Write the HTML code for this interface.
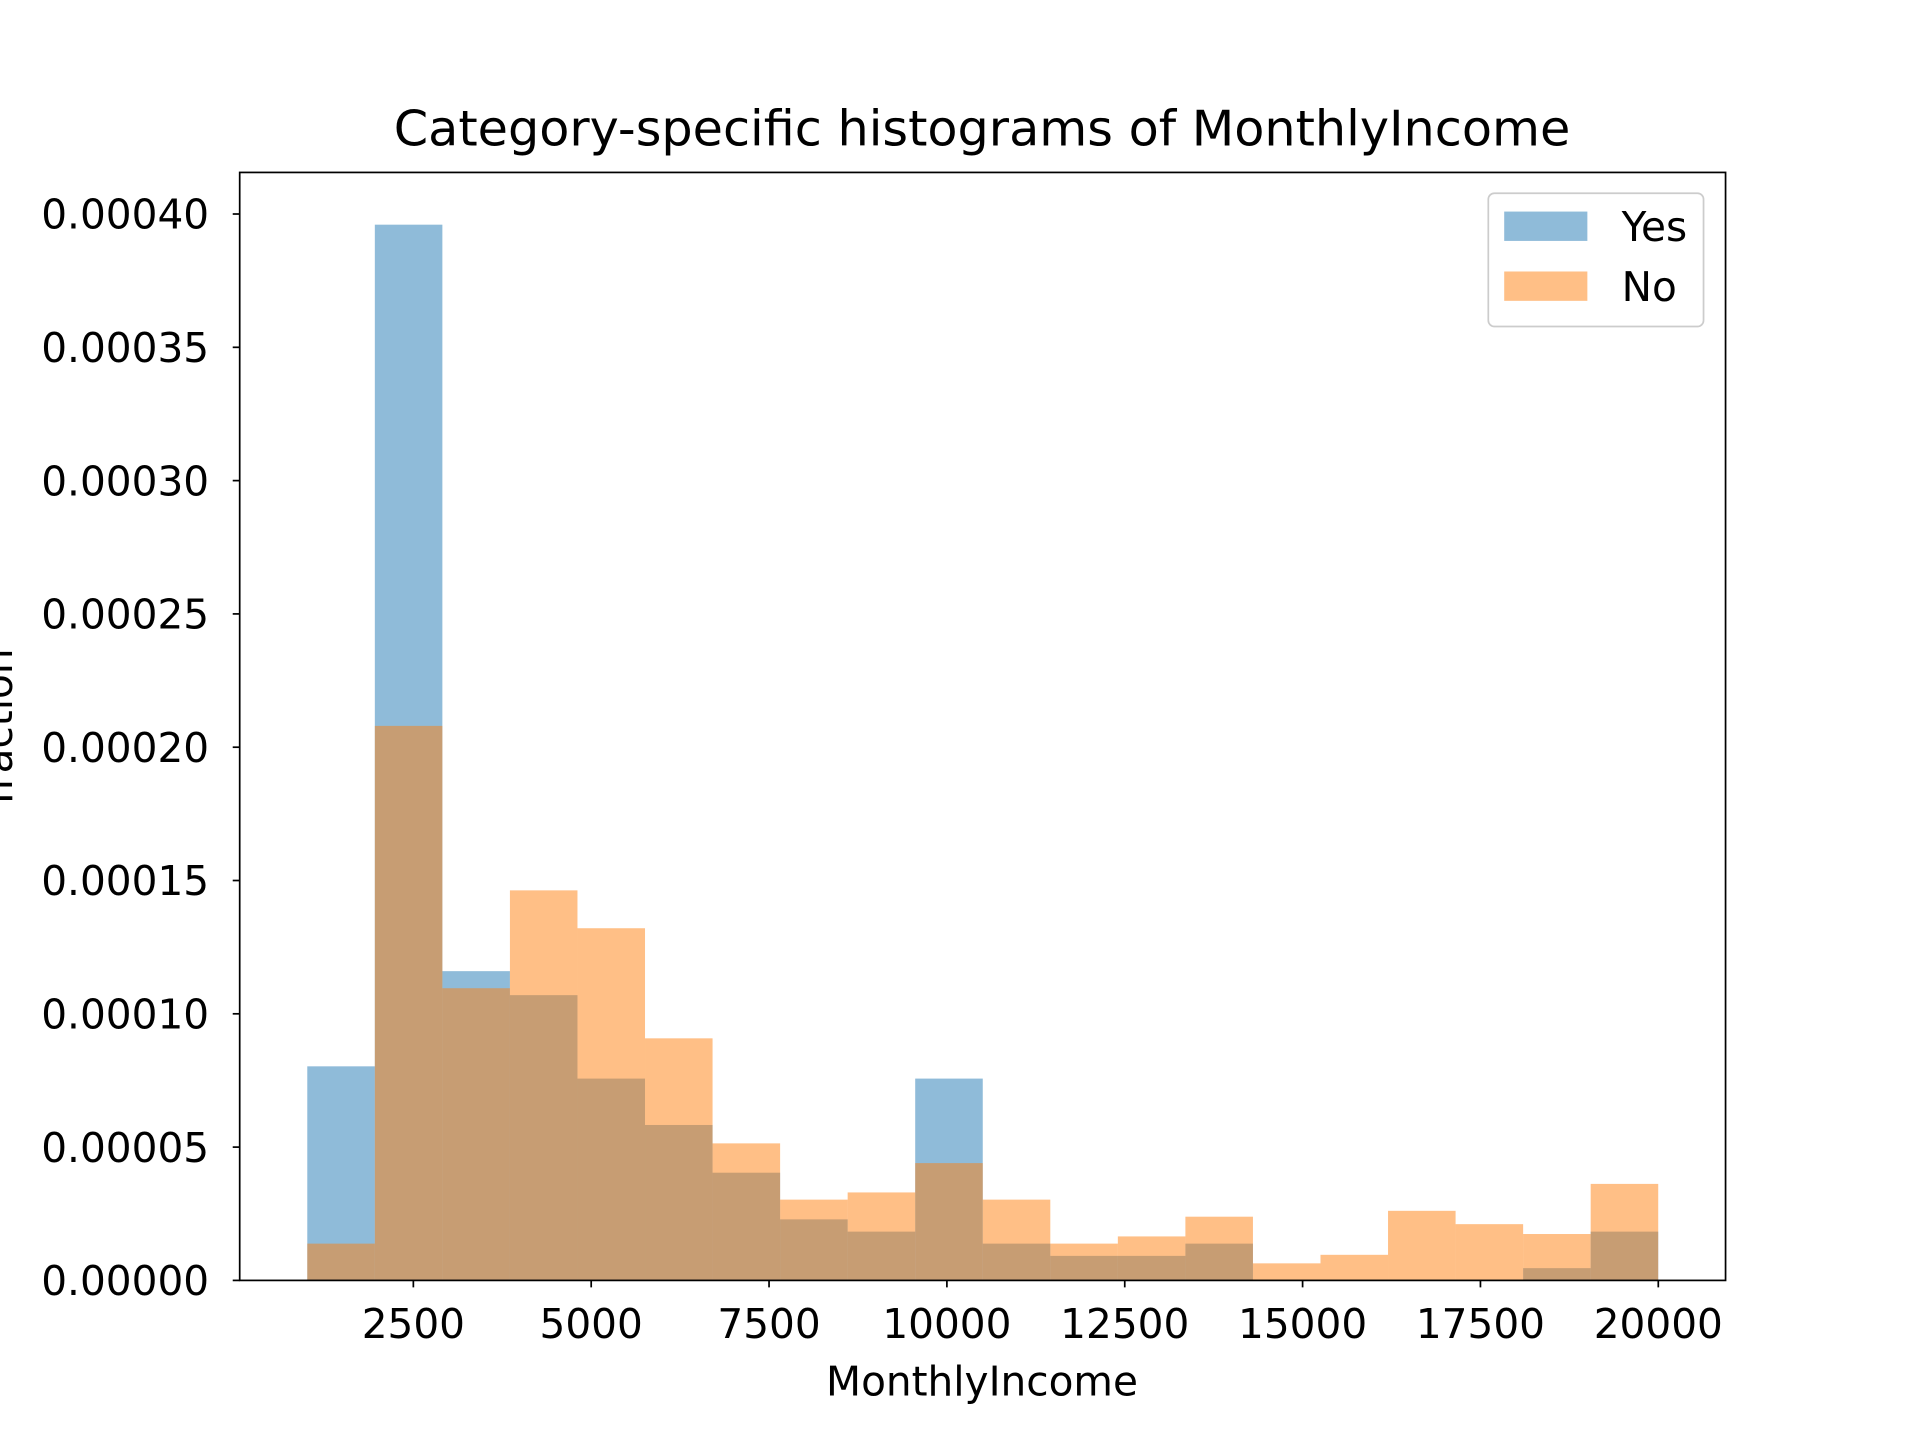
<!DOCTYPE html>
<html><head><meta charset="utf-8"><style>
html,body{margin:0;padding:0;background:#fff;}
svg{display:block;font-family:"DejaVu Sans","Liberation Sans",sans-serif;}
</style></head><body>
<svg id="chart" width="1920" height="1440" viewBox="0 0 1570 1177.5" xmlns="http://www.w3.org/2000/svg">
<rect width="1570" height="1177.5" fill="#fff"/>
<g id="bars"></g>
<g id="axes"></g>
</svg>
<script>
const binStart = 1009;
const binWidth = 949.5;
const yesValues = [0.0000803,0.000396,0.000116,0.000107,0.0000757,0.0000583,0.0000404,0.0000229,0.0000183,0.0000757,0.0000138,0.0000092,0.0000092,0.0000138,0,0,0,0,0.0000046,0.0000183];
const noValues = [0.0000138,0.000208,0.0001096,0.0001463,0.0001321,0.0000908,0.0000514,0.0000303,0.000033,0.000044,0.0000303,0.0000138,0.0000165,0.0000239,0.0000064,0.0000096,0.0000261,0.0000211,0.0000174,0.0000362];
const xTicks = [2500,5000,7500,10000,12500,15000,17500,20000];
const yTicks = [0,0.00005,0.0001,0.00015,0.0002,0.00025,0.0003,0.00035,0.0004];
const yTickLabels = ["0.00000","0.00005","0.00010","0.00015","0.00020","0.00025","0.00030","0.00035","0.00040"];

const L=196,R=1411,T=141,B=1047;
const xs = v => 338 + (v-2500)*(1356-338)/17500;
const ys = v => 1047 - v*(1047-175)/0.0004;
const NS="http://www.w3.org/2000/svg";
function mk(tag, attrs, parent){const e=document.createElementNS(NS,tag);for(const k in attrs)e.setAttribute(k,attrs[k]);parent.appendChild(e);return e;}
const bars=document.getElementById('bars');
const axes=document.getElementById('axes');

function drawSeries(vals,color,name){
  vals.forEach((v,i)=>{
    const x0=xs(binStart+i*binWidth), x1=xs(binStart+(i+1)*binWidth);
    const r=mk('rect',{x:x0,y:ys(v),width:x1-x0,height:ys(0)-ys(v),fill:color,'fill-opacity':0.5},bars);
    
    
  });
}
drawSeries(yesValues,'#1f77b4','yes');
drawSeries(noValues,'#ff7f0e','no');

const frame=mk('rect',{x:L,y:T,width:R-L,height:B-T,fill:'none',stroke:'#000','stroke-width':1.4},axes);



xTicks.forEach(t=>{
  const x=xs(t);
  mk('line',{x1:x,x2:x,y1:B,y2:B+5.7,stroke:'#000','stroke-width':1.4},axes);
  const tx=mk('text',{x:x,y:B+47,'text-anchor':'middle','font-size':33.2,fill:'#000'},axes);
  tx.textContent=t;
  
  
});
yTicks.forEach((t,i)=>{
  const y=ys(t);
  mk('line',{x1:L,x2:L-5.7,y1:y,y2:y,stroke:'#000','stroke-width':1.4},axes);
  const tx=mk('text',{x:L-25,y:y+12,'text-anchor':'end','font-size':33.2,fill:'#000'},axes);
  tx.textContent=yTickLabels[i];
  
  
});

const title=mk('text',{x:803,y:119,'text-anchor':'middle','font-size':40.3,fill:'#000'},axes);
title.textContent='Category-specific histograms of MonthlyIncome';



const xl=mk('text',{x:803,y:1141,'text-anchor':'middle','font-size':33.2,fill:'#000'},axes);
xl.textContent='MonthlyIncome';



const yl=mk('text',{x:0,y:0,'text-anchor':'middle','font-size':33.2,fill:'#000',transform:'translate(10,594) rotate(-90)'},axes);
yl.textContent='fraction';



const lg=mk('g',{},axes);


mk('rect',{x:1217,y:158,width:176,height:109,rx:5,fill:'#fff','fill-opacity':0.8,stroke:'#ccc','stroke-width':1.4},lg);
[['Yes','#1f77b4',173],['No','#ff7f0e',222]].forEach(([n,c,y])=>{
  const p=mk('rect',{x:1230,y:y,width:68,height:24,fill:c,'fill-opacity':0.5},lg);
  
  
  const t=mk('text',{x:1326,y:y+24,'font-size':33.2,fill:'#000'},lg);
  t.textContent=n;
  
  
});
</script>
</body></html>
